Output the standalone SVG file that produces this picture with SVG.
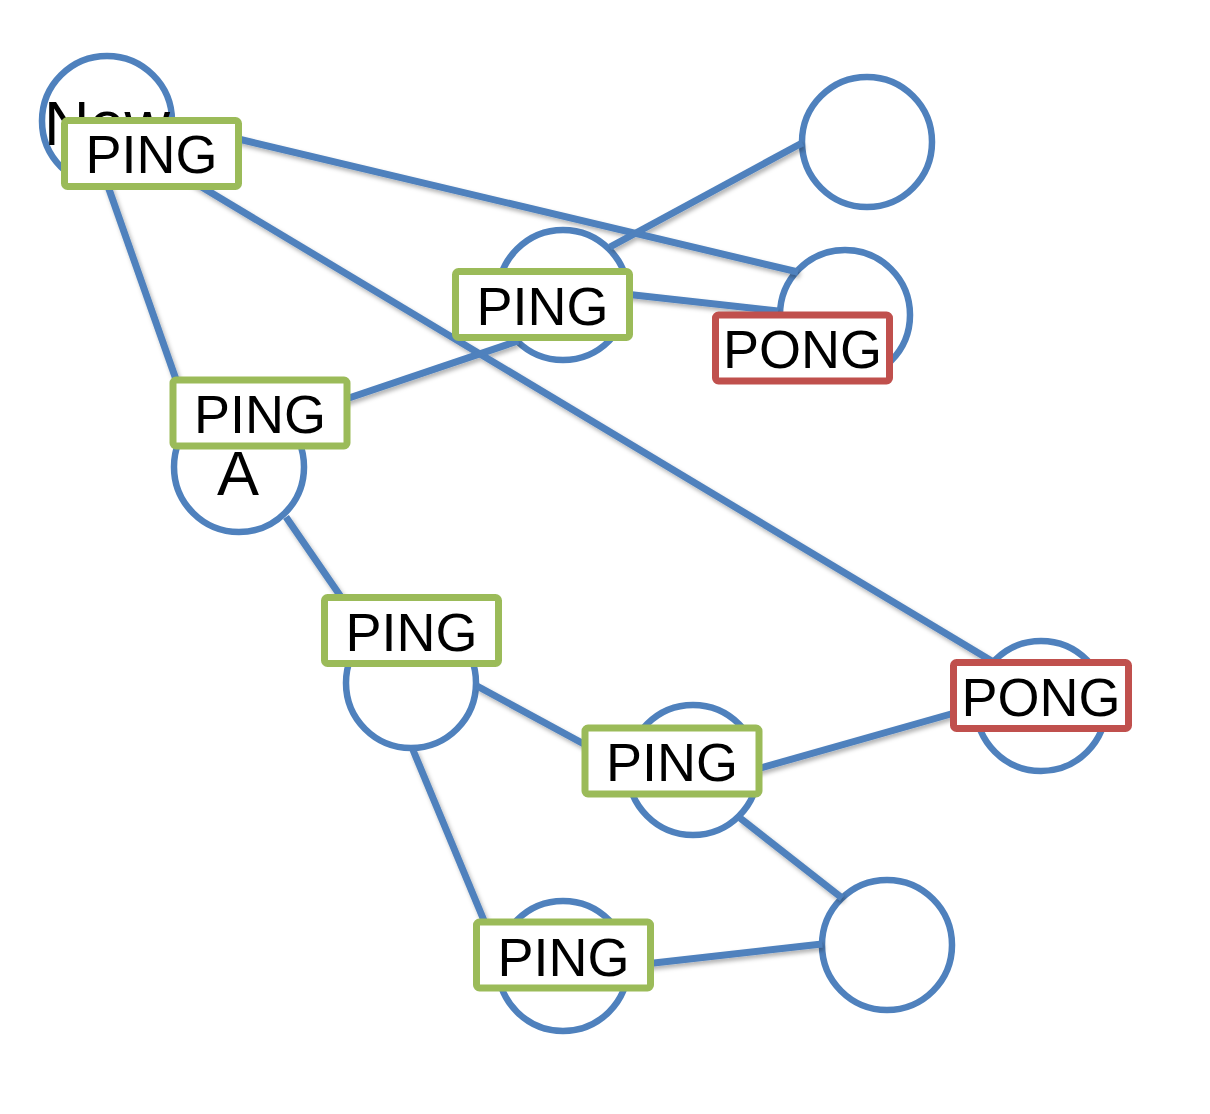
<svg xmlns="http://www.w3.org/2000/svg" width="1210" height="1114" viewBox="0 0 1210 1114">
<defs>
<style>
.edge{stroke:#4f81bd;stroke-width:7;fill:none;stroke-linecap:butt}
.node{fill:#ffffff;stroke:#4f81bd;stroke-width:6.5}
.ntext{font-family:"Liberation Sans",Arial,sans-serif;font-size:63px;fill:#000;text-anchor:middle}
.ping{fill:#ffffff;stroke:#9bbb59;stroke-width:7}
.pong{fill:#ffffff;stroke:#c0504d;stroke-width:7}
.ltext{font-family:"Liberation Sans",Arial,sans-serif;font-size:54px;fill:#000;text-anchor:middle}
</style>
<filter id="sh" x="-10%" y="-10%" width="120%" height="130%">
<feDropShadow dx="2" dy="3" stdDeviation="2" flood-color="#000" flood-opacity="0.3"/>
</filter>
</defs>
<rect width="1210" height="1114" fill="#ffffff"/>

<g id="nodes">
<g id="node-new"><circle class="node" cx="107" cy="121" r="65"/><text class="ntext" x="107" y="145">New</text></g>
<g id="node-tr"><circle class="node" cx="867" cy="142" r="65"/></g>
<g id="node-mid"><circle class="node" cx="563" cy="295" r="65"/></g>
<g id="node-r1"><circle class="node" cx="845" cy="315" r="65"/></g>
<g id="node-a"><circle class="node" cx="239" cy="467" r="65"/><text class="ntext" x="238" y="495">A</text></g>
<g id="node-c"><circle class="node" cx="411" cy="683" r="65"/></g>
<g id="node-d"><circle class="node" cx="693" cy="770" r="65"/></g>
<g id="node-r2"><circle class="node" cx="1041" cy="706" r="65"/></g>
<g id="node-br"><circle class="node" cx="887" cy="945" r="65"/></g>
<g id="node-b"><circle class="node" cx="563" cy="966" r="65"/></g>
</g>

<g id="connectors" filter="url(#sh)">
<line class="edge" x1="104" y1="175" x2="185" y2="405"/>
<line class="edge" x1="230" y1="137" x2="798" y2="272"/>
<line class="edge" x1="185" y1="177" x2="995" y2="663"/>
<line class="edge" x1="802" y1="143" x2="610" y2="247"/>
<line class="edge" x1="625" y1="294" x2="778" y2="311"/>
<line class="edge" x1="340" y1="401" x2="518" y2="341"/>
<line class="edge" x1="286" y1="517" x2="350" y2="610"/>
<line class="edge" x1="477" y1="686" x2="595" y2="750"/>
<line class="edge" x1="413" y1="750" x2="490" y2="935"/>
<line class="edge" x1="750" y1="771" x2="965" y2="710"/>
<line class="edge" x1="740" y1="818" x2="842" y2="898"/>
<line class="edge" x1="645" y1="964" x2="822" y2="944"/>
</g>

<g id="label-ping1"><rect class="ping" x="64.5" y="120.5" width="174" height="66" rx="3"/><text class="ltext" x="151.5" y="173">PING</text></g>
<g id="label-ping2"><rect class="ping" x="455.5" y="271.5" width="174" height="66" rx="3"/><text class="ltext" x="542.5" y="325">PING</text></g>
<g id="label-pong1"><rect class="pong" x="715.5" y="315" width="174" height="66" rx="3"/><text class="ltext" x="802.5" y="368">PONG</text></g>
<g id="label-ping3"><rect class="ping" x="173" y="380" width="174" height="66" rx="3"/><text class="ltext" x="260" y="433">PING</text></g>
<g id="label-ping4"><rect class="ping" x="324.5" y="597.5" width="174" height="66" rx="3"/><text class="ltext" x="411.5" y="651">PING</text></g>
<g id="label-ping5"><rect class="ping" x="585" y="728" width="174" height="66" rx="3"/><text class="ltext" x="672" y="781">PING</text></g>
<g id="label-pong2"><rect class="pong" x="953.5" y="662.5" width="175" height="66" rx="3"/><text class="ltext" x="1041" y="716">PONG</text></g>
<g id="label-ping6"><rect class="ping" x="476.5" y="922" width="174" height="66" rx="3"/><text class="ltext" x="563.5" y="976">PING</text></g>
</svg>
